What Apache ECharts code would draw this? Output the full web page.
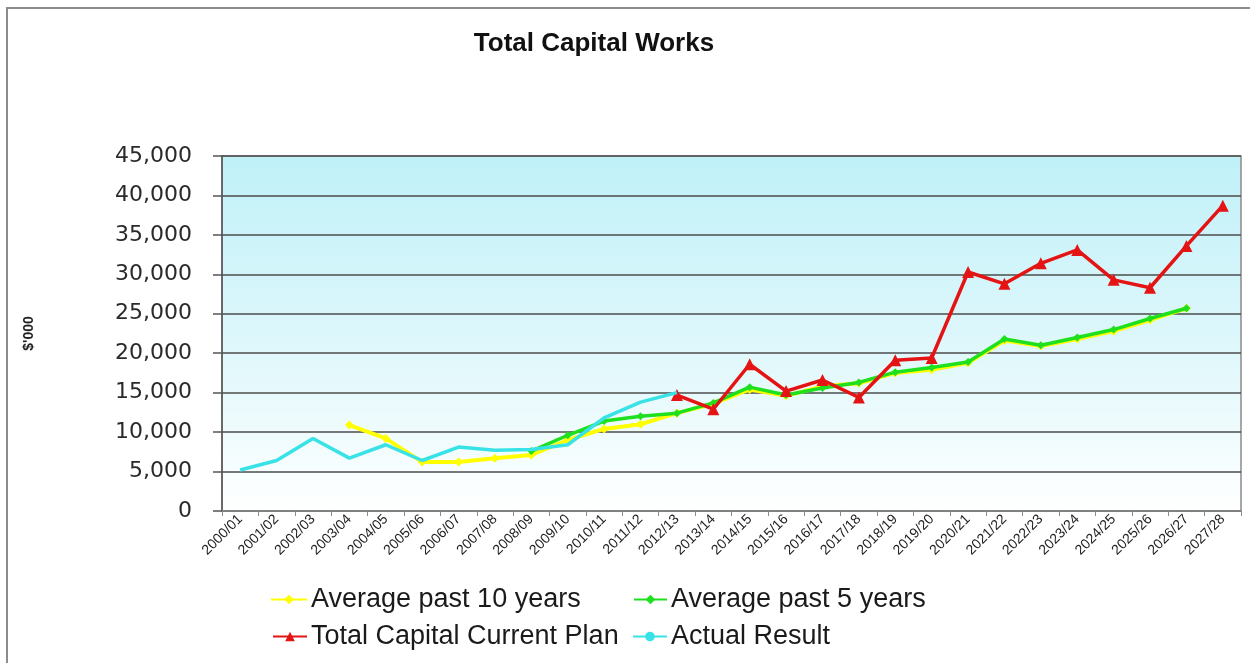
<!DOCTYPE html>
<html>
<head>
<meta charset="utf-8">
<title>Total Capital Works</title>
<script src="https://cdn.jsdelivr.net/npm/echarts@6/dist/echarts.min.js"></script>
<style>
  html, body { margin: 0; padding: 0; background: #ffffff; }
  #chart { width: 1250px; height: 663px; }
</style>
</head>
<body>
<div id="chart"></div>
<script>
// Financial years on the category axis
const years = [
  '2000/01','2001/02','2002/03','2003/04','2004/05','2005/06','2006/07',
  '2007/08','2008/09','2009/10','2010/11','2011/12','2012/13','2013/14',
  '2014/15','2015/16','2016/17','2017/18','2018/19','2019/20','2020/21',
  '2021/22','2022/23','2023/24','2024/25','2025/26','2026/27','2027/28'
];

// Values in $'000 (null = no value for that year)
const avgPast10 = [
  null, null, null, 10900, 9200, 6200, 6200, 6700, 7100, 9000,
  10400, 11000, 12400, 13600, 15400, 14600, 15800, 16200, 17500, 17900,
  18800, 21600, 20900, 21800, 22800, 24200, 25700, null
];
const avgPast5 = [
  null, null, null, null, null, null, null, null, 7600, 9600,
  11400, 12000, 12400, 13700, 15700, 14700, 15600, 16300, 17600, 18200,
  18900, 21800, 21000, 22000, 23000, 24400, 25700, null
];
const currentPlan = [
  null, null, null, null, null, null, null, null, null, null,
  null, null, 14700, 12900, 18600, 15200, 16600, 14400, 19100, 19400,
  30300, 28800, 31400, 33100, 29300, 28300, 33600, 38700
];
const actualResult = [
  5200, 6400, 9200, 6700, 8400, 6400, 8100, 7700, 7800, 8400,
  11800, 13800, 15000, null, null, null, null, null, null, null,
  null, null, null, null, null, null, null, null
];

// Value axis range
const yMin = 0;
const yMax = 45000;
const yStep = 5000;

const FONT = "'Liberation Sans', Arial, sans-serif";
const WIDE_FONT = "'DejaVu Sans', 'Liberation Sans', sans-serif";

const chart = echarts.init(document.getElementById('chart'), null, { renderer: 'canvas' });

// One legend block per entry so the two columns line up
function legendBlock(name, left, top, iconWidth) {
  return {
    data: [name],
    left: left,
    top: top,
    itemWidth: iconWidth,
    itemHeight: 12,
    itemGap: 0,
    padding: 0,
    textStyle: { fontFamily: FONT, fontSize: 27, color: '#1a1a1a', padding: [0, 0, 0, -1] },
    selectedMode: false
  };
}

const option = {
  backgroundColor: '#ffffff',
  animation: false,
  graphic: [
    {
      type: 'rect',
      shape: { x: 7, y: 8, width: 1320, height: 720 },
      style: { fill: 'none', stroke: '#8c8c8c', lineWidth: 2 },
      silent: true
    },
    {
      type: 'text',
      x: 594,
      y: 44,
      style: {
        text: 'Total Capital Works',
        font: "bold 26px " + FONT,
        fill: '#111111',
        align: 'center',
        verticalAlign: 'middle'
      }
    }
  ],
  legend: [
    legendBlock('Average past 10 years', 270, 586, 36),
    legendBlock('Average past 5 years', 633, 586, 33),
    legendBlock('Total Capital Current Plan', 272, 623, 34),
    legendBlock('Actual Result', 632, 623, 34)
  ],
  grid: {
    left: 222,
    right: 9,
    top: 156,
    bottom: 152,
    show: true,
    borderColor: '#8a8a8a',
    borderWidth: 1.5,
    backgroundColor: {
      type: 'linear', x: 0, y: 0, x2: 0, y2: 1,
      colorStops: [
        { offset: 0, color: '#c0f1f8' },
        { offset: 0.5, color: '#dcf7fb' },
        { offset: 1, color: '#ffffff' }
      ]
    }
  },
  xAxis: {
    type: 'category',
    data: years,
    boundaryGap: true,
    axisLine: { lineStyle: { color: '#8a8a8a', width: 1.5 } },
    axisTick: { show: true, length: 5, lineStyle: { color: '#8a8a8a' } },
    axisLabel: {
      interval: 0,
      rotate: 45,
      margin: 6,
      fontFamily: FONT,
      fontSize: 14,
      color: '#222222'
    },
    splitLine: { show: false }
  },
  yAxis: {
    type: 'value',
    min: yMin,
    max: yMax,
    interval: yStep,
    name: "$'000",
    nameLocation: 'middle',
    nameGap: 186,
    nameRotate: 90,
    nameTextStyle: { fontFamily: FONT, fontSize: 14, fontWeight: 'bold', color: '#222222' },
    axisLine: { show: true, lineStyle: { color: '#555555', width: 1.5 } },
    axisTick: { show: true, inside: false, length: 9, lineStyle: { color: '#555555', width: 1.5 } },
    axisLabel: {
      margin: 30,
      fontFamily: WIDE_FONT,
      fontSize: 22,
      color: '#2a2a2a',
      formatter: function (v) { return v.toLocaleString('en-US'); }
    },
    splitLine: { show: true, lineStyle: { color: '#4d4d4d', width: 1.5 } }
  },
  series: [
    {
      name: 'Average past 10 years',
      type: 'line',
      data: avgPast10,
      symbol: 'diamond',
      symbolSize: 9,
      lineStyle: { color: '#ffff00', width: 4 },
      itemStyle: { color: '#ffff00' },
      z: 2
    },
    {
      name: 'Average past 5 years',
      type: 'line',
      data: avgPast5,
      symbol: 'diamond',
      symbolSize: 8,
      lineStyle: { color: '#1ee01e', width: 3.5 },
      itemStyle: { color: '#1ee01e' },
      z: 3
    },
    {
      name: 'Total Capital Current Plan',
      type: 'line',
      data: currentPlan,
      symbol: 'triangle',
      symbolSize: 12,
      lineStyle: { color: '#e51414', width: 3.5 },
      itemStyle: { color: '#e51414' },
      z: 4
    },
    {
      name: 'Actual Result',
      type: 'line',
      data: actualResult,
      symbol: 'none',
      lineStyle: { color: '#38e2e6', width: 3.5 },
      itemStyle: { color: '#38e2e6' },
      z: 5
    }
  ]
};

chart.setOption(option);
</script>
</body>
</html>
